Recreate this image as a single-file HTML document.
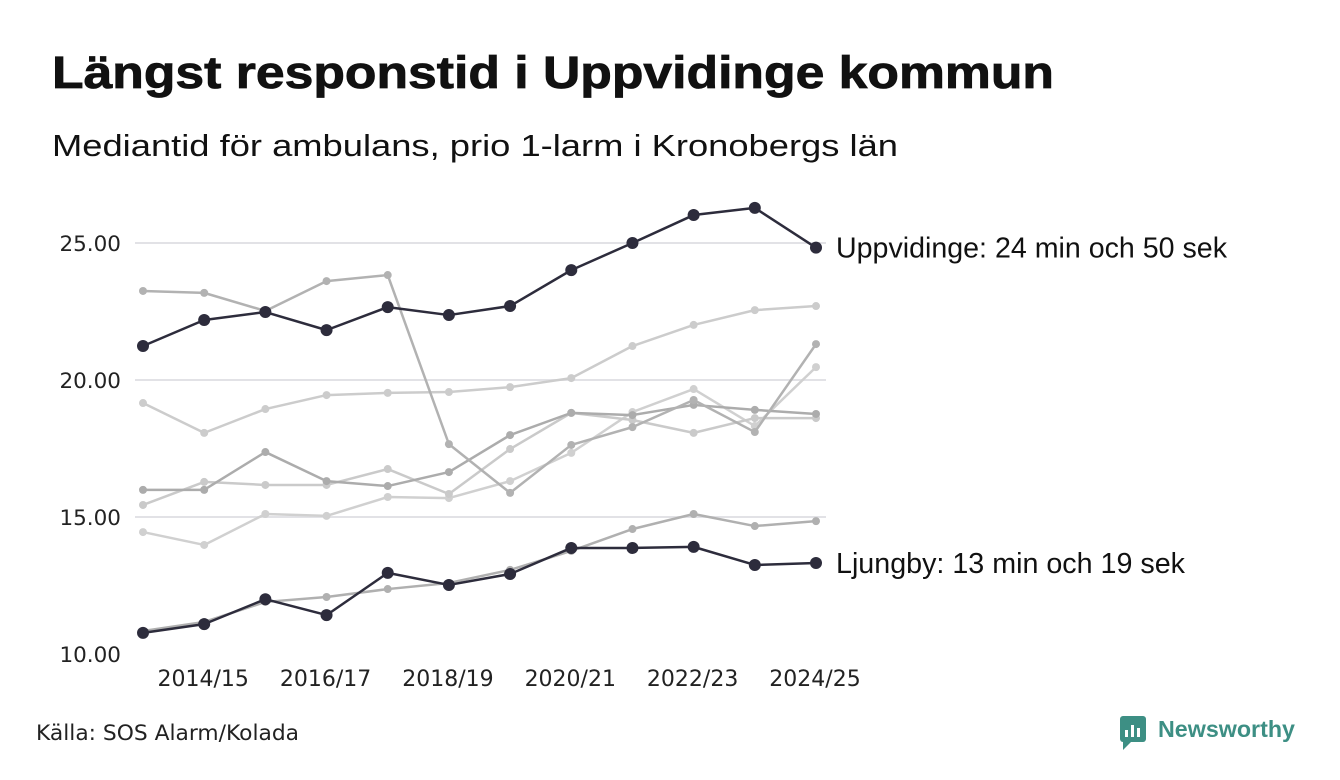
<!DOCTYPE html>
<html><head><meta charset="utf-8"><style>
html,body{margin:0;padding:0;background:#fff;}
svg{display:block;}
</style></head><body>
<svg id="chart" width="1340" height="780" viewBox="0 0 1340 780" xmlns="http://www.w3.org/2000/svg" font-family="'DejaVu Sans', sans-serif">
<text x="52" y="88" font-family="'Liberation Sans', sans-serif" font-weight="bold" font-size="45" fill="#111" stroke="#111" stroke-width="0.8" textLength="1002" lengthAdjust="spacingAndGlyphs">Längst responstid i Uppvidinge kommun</text>
<text x="52" y="156" font-family="'Liberation Sans', sans-serif" font-size="31" fill="#111" textLength="846" lengthAdjust="spacingAndGlyphs">Mediantid för ambulans, prio 1-larm i Kronobergs län</text>
<g id="grid"></g>
<g id="yticks"></g>
<g id="xticks"></g>
<g id="lines"></g>
<text x="36" y="740" font-size="21" fill="#222" textLength="263" lengthAdjust="spacingAndGlyphs">Källa: SOS Alarm/Kolada</text>
<g>
<rect x="1120" y="716" width="26" height="26" rx="3" fill="#3d8f84"/>
<rect x="1125" y="730" width="3" height="7" fill="#fff"/>
<rect x="1131" y="725" width="3" height="12" fill="#fff"/>
<rect x="1137" y="728" width="3" height="9" fill="#fff"/>
<path d="M1123 742 L1123 750 L1131 742 Z" fill="#3d8f84"/>
<text x="1158" y="737" font-family="'Liberation Sans', sans-serif" font-weight="bold" font-size="23" fill="#3d8f84" textLength="137" lengthAdjust="spacingAndGlyphs">Newsworthy</text>
</g>
</svg>
<script>
const categories = ["2013/14","2014/15","2015/16","2016/17","2017/18","2018/19","2019/20","2020/21","2021/22","2022/23","2023/24","2024/25"];
const xTickLabels = ["2014/15","2016/17","2018/19","2020/21","2022/23","2024/25"];
const yTicks = [10,15,20,25];
const uppvidinge = [21.24,22.19,22.48,21.82,22.66,22.37,22.70,24.01,25.00,26.02,26.28,24.83];
const ljungby = [10.77,11.09,12.00,11.42,12.96,12.52,12.92,13.87,13.87,13.91,13.25,13.32];
const grayA = [23.25,23.18,22.52,23.61,23.83,17.66,15.88,17.63,18.28,19.27,18.10,21.31];
const grayB = [19.16,18.07,18.94,19.45,19.53,19.56,19.74,20.07,21.24,22.01,22.55,22.70];
const grayC = [15.99,15.99,17.37,16.31,16.13,16.64,17.99,18.80,18.72,19.09,18.91,18.76];
const grayD = [15.44,16.28,16.17,16.17,16.75,15.84,17.48,18.80,18.54,18.07,18.61,18.61];
const grayE = [14.45,13.98,15.11,15.04,15.73,15.69,16.31,17.34,18.83,19.67,18.32,20.47];
const grayF = [10.84,11.17,11.90,12.08,12.37,12.59,13.07,13.76,14.56,15.11,14.67,14.85];
const labelUpp = "Uppvidinge: 24 min och 50 sek";
const labelLj = "Ljungby: 13 min och 19 sek";

const NS="http://www.w3.org/2000/svg";
const x0=143,x1=816,yBase=654,yPer=27.4;
function xs(i){return x0+(x1-x0)*i/(categories.length-1);}
function ys(v){return yBase-(v-10)*yPer;}
function mk(tag,attrs,parent){const e=document.createElementNS(NS,tag);for(const k in attrs)e.setAttribute(k,attrs[k]);parent.appendChild(e);return e;}
const grid=document.getElementById('grid'),yt=document.getElementById('yticks'),xt=document.getElementById('xticks'),lines=document.getElementById('lines');
yTicks.forEach(v=>{
  if(v>10){const l=mk('line',{x1:135,x2:826,y1:ys(v),y2:ys(v),stroke:'#e2e2e6','stroke-width':2},grid);
  
  }
  const t=mk('text',{x:121,y:ys(v)+8,'text-anchor':'end','font-size':21.5,fill:'#222'},yt);
  t.textContent=v.toFixed(2);
  
  
});
xTickLabels.forEach(lab=>{
  const i=categories.indexOf(lab);
  const t=mk('text',{x:xs(i)-1,y:686,'text-anchor':'middle','font-size':22,fill:'#222'},xt);
  t.textContent=lab;
  
  
});
function series(vals,color,w,r,name){
  const g=mk('g',{},lines);
  
  
  mk('polyline',{points:vals.map((v,i)=>xs(i)+','+ys(v)).join(' '),fill:'none',stroke:color,'stroke-width':w,'stroke-linejoin':'round'},g);
  vals.forEach((v,i)=>{const c=mk('circle',{cx:xs(i),cy:ys(v),r:r,fill:color},g);
    
    });
}
series(grayE,'#d0d0d0',2.5,4,'series-gray-e');
series(grayD,'#cacaca',2.5,4,'series-gray-d');
series(grayB,'#cccccc',2.5,4,'series-gray-b');
series(grayF,'#b0b0b0',2.5,4,'series-gray-f');
series(grayC,'#acacac',2.5,4,'series-gray-c');
series(grayA,'#b2b2b2',2.5,4,'series-gray-a');
series(uppvidinge,'#2d2c3c',2.5,6,'series-uppvidinge');
series(ljungby,'#2d2c3c',2.5,6,'series-ljungby');
function lab(text,v,name,len){
  const t=mk('text',{x:836,y:ys(v)+10,'font-family':"'Liberation Sans', sans-serif",'font-size':28.5,fill:'#111',textLength:len,lengthAdjust:'spacingAndGlyphs'},lines);
  t.textContent=text;
  
  
}
lab(labelUpp,uppvidinge[uppvidinge.length-1],'label-uppvidinge',391);
lab(labelLj,ljungby[ljungby.length-1],'label-ljungby',349);
</script>
</body></html>
